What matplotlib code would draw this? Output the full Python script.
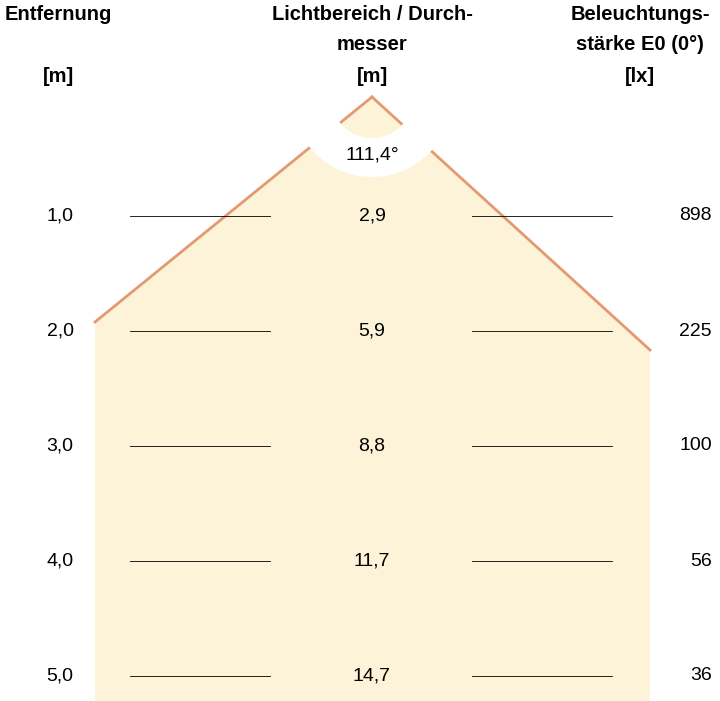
import numpy as np
import matplotlib
matplotlib.use("Agg")
import matplotlib.pyplot as plt
from matplotlib.patches import Polygon

distances = [1.0, 2.0, 3.0, 4.0, 5.0]
dist_labels = ["1,0", "2,0", "3,0", "4,0", "5,0"]
diameters = ["2,9", "5,9", "8,8", "11,7", "14,7"]
illuminance = ["898", "225", "100", "56", "36"]
beam_angle = "111,4°"

FILL = "#fdf3d8"
EDGE = "#e39a72"
plt.rcParams["font.family"] = ["Liberation Sans Narrow", "Liberation Sans", "DejaVu Sans"]

fig = plt.figure(figsize=(7.2, 7.01), dpi=100)
ax = fig.add_axes([0, 0, 1, 1])
Y0, S = 101.0, 115.0  # pixel offset and pixels per metre
ax.set_xlim(0, 720)
ax.set_ylim((701 - Y0) / S, -Y0 / S)
ax.axis("off")

def py(p):  # pixel row -> metres
    return (p - Y0) / S

apex = (372, 97)
left_end = (95, 322)
right_end = (650, 350)
bottom = py(701)
poly = [(apex[0], py(apex[1])), (right_end[0], py(right_end[1])),
        (right_end[0], bottom), (left_end[0], bottom), (left_end[0], py(left_end[1]))]
ax.add_patch(Polygon(poly, closed=True, facecolor=FILL, edgecolor="none", zorder=1))
ax.plot([apex[0], left_end[0]], [py(apex[1]), py(left_end[1])], color=EDGE, lw=2, zorder=2)
ax.plot([apex[0], right_end[0]], [py(apex[1]), py(right_end[1])], color=EDGE, lw=2, zorder=2)

th = np.linspace(np.deg2rad(20), np.deg2rad(160), 100)
r1, r2 = 41, 80
xs = np.concatenate([apex[0] + r2 * np.cos(th), apex[0] + r1 * np.cos(th[::-1])])
ys = np.concatenate([apex[1] + r2 * np.sin(th), apex[1] + r1 * np.sin(th[::-1])])
ax.add_patch(Polygon(list(zip(xs, py(ys))), closed=True, facecolor="white", edgecolor="none", zorder=3))
ax.text(372, py(155), beam_angle, ha="center", va="center", fontsize=14, zorder=4)

for d, dl, dm, lx in zip(distances, dist_labels, diameters, illuminance):
    ax.plot([130, 270], [d, d], color="black", lw=0.6, zorder=2)
    ax.plot([472, 612], [d, d], color="black", lw=0.6, zorder=2)
    ax.text(60, d, dl, ha="center", va="center", fontsize=14)
    ax.text(372, d, dm, ha="center", va="center", fontsize=14)
    ax.text(712, d, lx, ha="right", va="center", fontsize=14)

hk = dict(fontsize=14.5, fontweight="bold", va="center", ha="center")
ax.text(58, py(14), "Entfernung", **hk)
ax.text(58, py(77), "[m]", **hk)
ax.text(372, py(14), "Lichtbereich / Durch-", **hk)
ax.text(372, py(45), "messer", **hk)
ax.text(372, py(77), "[m]", **hk)
ax.text(640, py(14), "Beleuchtungs-", **hk)
ax.text(640, py(45), "stärke E0 (0°)", **hk)
ax.text(640, py(77), "[lx]", **hk)

fig.savefig("out.png", dpi=100)
